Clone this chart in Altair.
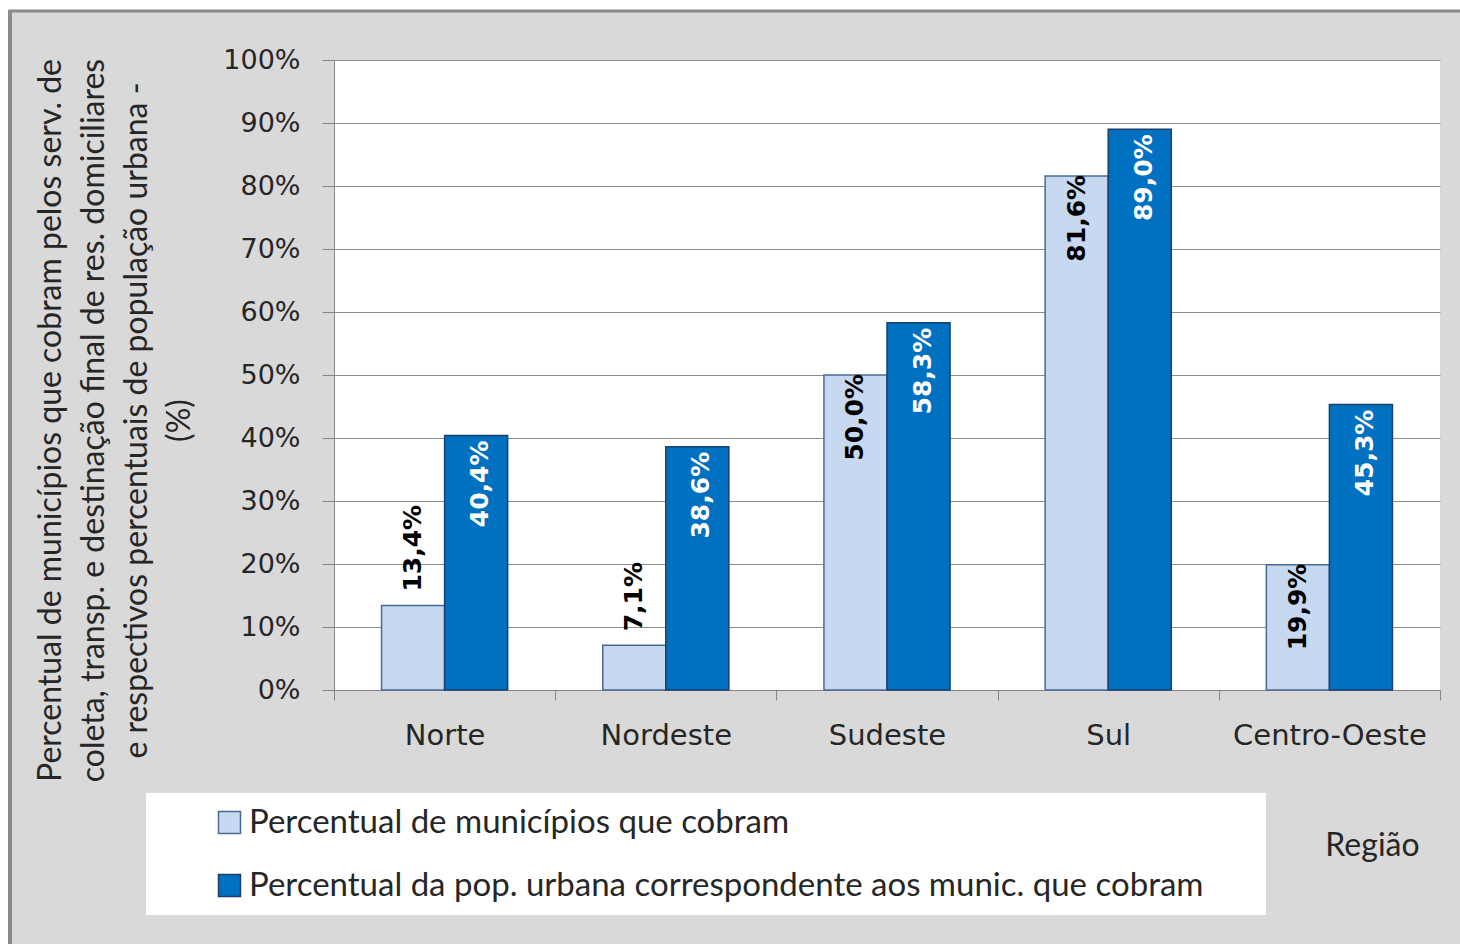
import altair as alt
import pandas as pd

# Percentages per region
regioes = ["Norte", "Nordeste", "Sudeste", "Sul", "Centro-Oeste"]
pct_municipios = [13.4, 7.1, 50.0, 81.6, 19.9]
pct_populacao = [40.4, 38.6, 58.3, 89.0, 45.3]
# light-bar labels drawn above the bar (True) or inside its top (False)
rotulo_acima = [True, True, False, False, False]

serie_mun = "Percentual de municípios que cobram"
serie_pop = "Percentual da pop. urbana correspondente aos munic. que cobram"
series = [serie_mun, serie_pop]
y_ticks = [0, 10, 20, 30, 40, 50, 60, 70, 80, 90, 100]

titulo_y = [
    "Percentual de municípios que cobram pelos serv. de",
    "coleta, transp. e destinação final de res. domiciliares",
    "e respectivos  percentuais de população urbana -",
    "(%)",
]


def rotulo(v):
    return f"{v:.1f}".replace(".", ",") + "%"


linhas = []
for reg, m, p, acima in zip(regioes, pct_municipios, pct_populacao, rotulo_acima):
    linhas.append({"regiao": reg, "serie": serie_mun, "valor": m,
                   "rotulo": rotulo(m), "pos": "acima" if acima else "dentro"})
    linhas.append({"regiao": reg, "serie": serie_pop, "valor": p,
                   "rotulo": rotulo(p), "pos": "dentro"})
df = pd.DataFrame(linhas)

W, H = 1106, 630
one = pd.DataFrame({"k": [0]})

x_enc = alt.X(
    "regiao:N", sort=regioes,
    scale=alt.Scale(paddingInner=0, paddingOuter=0),
    axis=alt.Axis(
        title="Região", labelAngle=0, tickBand="extent", grid=False,
        tickSize=10, labelPadding=21, labelFont="DejaVu Sans", labelFontSize=29,
        labelColor="#262626", labelLimit=0, domainColor="#868686", tickColor="#868686",
        titleFont="Lato", titleFontSize=32, titleFontWeight="normal",
        titleColor="#262626", titleX=1038, titleY=155, titleAlign="center",
        titleBaseline="middle",
    ),
)
xoff_enc = alt.XOffset("serie:N", sort=series,
                       scale=alt.Scale(paddingInner=0, paddingOuter=0.754))
y_enc = alt.Y(
    "valor:Q", scale=alt.Scale(domain=[0, 100]),
    axis=alt.Axis(
        values=y_ticks, labelExpr="datum.value + '%'", grid=True,
        gridColor="#8c8c8c", domainColor="#868686", tickColor="#868686",
        tickSize=12, labelPadding=22, labelFont="DejaVu Sans", labelFontSize=27,
        labelColor="#262626", title=titulo_y, titleFont="Lato", titleFontSize=32,
        titleFontWeight="normal", titleColor="#262626", titleLineHeight=43,
        titleAngle=270, titleX=-299, titleY=360, titleAlign="center",
        titleBaseline="top",
    ),
)

fill_scale = alt.Scale(domain=series, range=["#c6d9f1", "#0070c0"])
stroke_scale = alt.Scale(domain=series, range=["#4a6a96", "#1c3f6e"])

base = alt.Chart(df)

bars = base.mark_bar(strokeWidth=1.5).encode(
    x=x_enc, xOffset=xoff_enc, y=y_enc,
    fill=alt.Fill("serie:N", scale=fill_scale, sort=series, legend=alt.Legend(title=None)),
    stroke=alt.Stroke("serie:N", scale=stroke_scale, sort=series, legend=alt.Legend(title=None)),
)

txt_common = dict(angle=270, baseline="middle", font="DejaVu Sans",
                  fontSize=25, fontWeight="bold")

lbl_pop = base.transform_filter(alt.datum.serie == serie_pop).mark_text(
    align="right", dx=-5, dy=4, color="white", **txt_common
).encode(x=alt.X("regiao:N", sort=regioes), xOffset=alt.XOffset("serie:N", sort=series),
         y="valor:Q", text="rotulo:N")

lbl_mun_acima = base.transform_filter(
    (alt.datum.serie == serie_mun) & (alt.datum.pos == "acima")
).mark_text(align="left", dx=14, color="black", **txt_common).encode(
    x=alt.X("regiao:N", sort=regioes), xOffset=alt.XOffset("serie:N", sort=series),
    y="valor:Q", text="rotulo:N")

lbl_mun_dentro = base.transform_filter(
    (alt.datum.serie == serie_mun) & (alt.datum.pos == "dentro")
).mark_text(align="right", dx=1, color="black", **txt_common).encode(
    x=alt.X("regiao:N", sort=regioes), xOffset=alt.XOffset("serie:N", sort=series),
    y="valor:Q", text="rotulo:N")

# frame pieces around the chart area
strip_top = alt.Chart(one).mark_rect(color="white").encode(
    x=alt.value(-334), x2=alt.value(1126), y=alt.value(-60), y2=alt.value(-50))
strip_left = alt.Chart(one).mark_rect(color="white").encode(
    x=alt.value(-334), x2=alt.value(-324), y=alt.value(-60), y2=alt.value(884))
edge_top = alt.Chart(one).mark_rule(color="#8a8a8a", strokeWidth=3).encode(
    x=alt.value(-325), x2=alt.value(1126), y=alt.value(-49))
edge_left = alt.Chart(one).mark_rule(color="#8a8a8a", strokeWidth=4).encode(
    x=alt.value(-324), y=alt.value(-50), y2=alt.value(884))
legend_box = alt.Chart(one).mark_rect(color="white").encode(
    x=alt.value(-188), x2=alt.value(932), y=alt.value(733), y2=alt.value(855))

chart = alt.layer(
    strip_top, strip_left, edge_top, edge_left, legend_box,
    bars, lbl_pop, lbl_mun_acima, lbl_mun_dentro,
).properties(
    width=W, height=H,
    padding={"left": 334, "top": 60, "right": 20, "bottom": 254},
    autosize=alt.AutoSizeParams(type="none"),
    background="#d9d9d9",
).configure_view(
    fill="white", strokeWidth=0,
).configure_legend(
    orient="none", legendX=-121, legendY=746, padding=0,
    symbolType="square", symbolSize=484, symbolStrokeWidth=1.5,
    labelFont="Lato", labelFontSize=33, labelColor="#262626",
    labelLimit=0, rowPadding=29, labelOffset=3,
)

chart.save("out.html", embed_options={"renderer": "svg", "actions": False})
